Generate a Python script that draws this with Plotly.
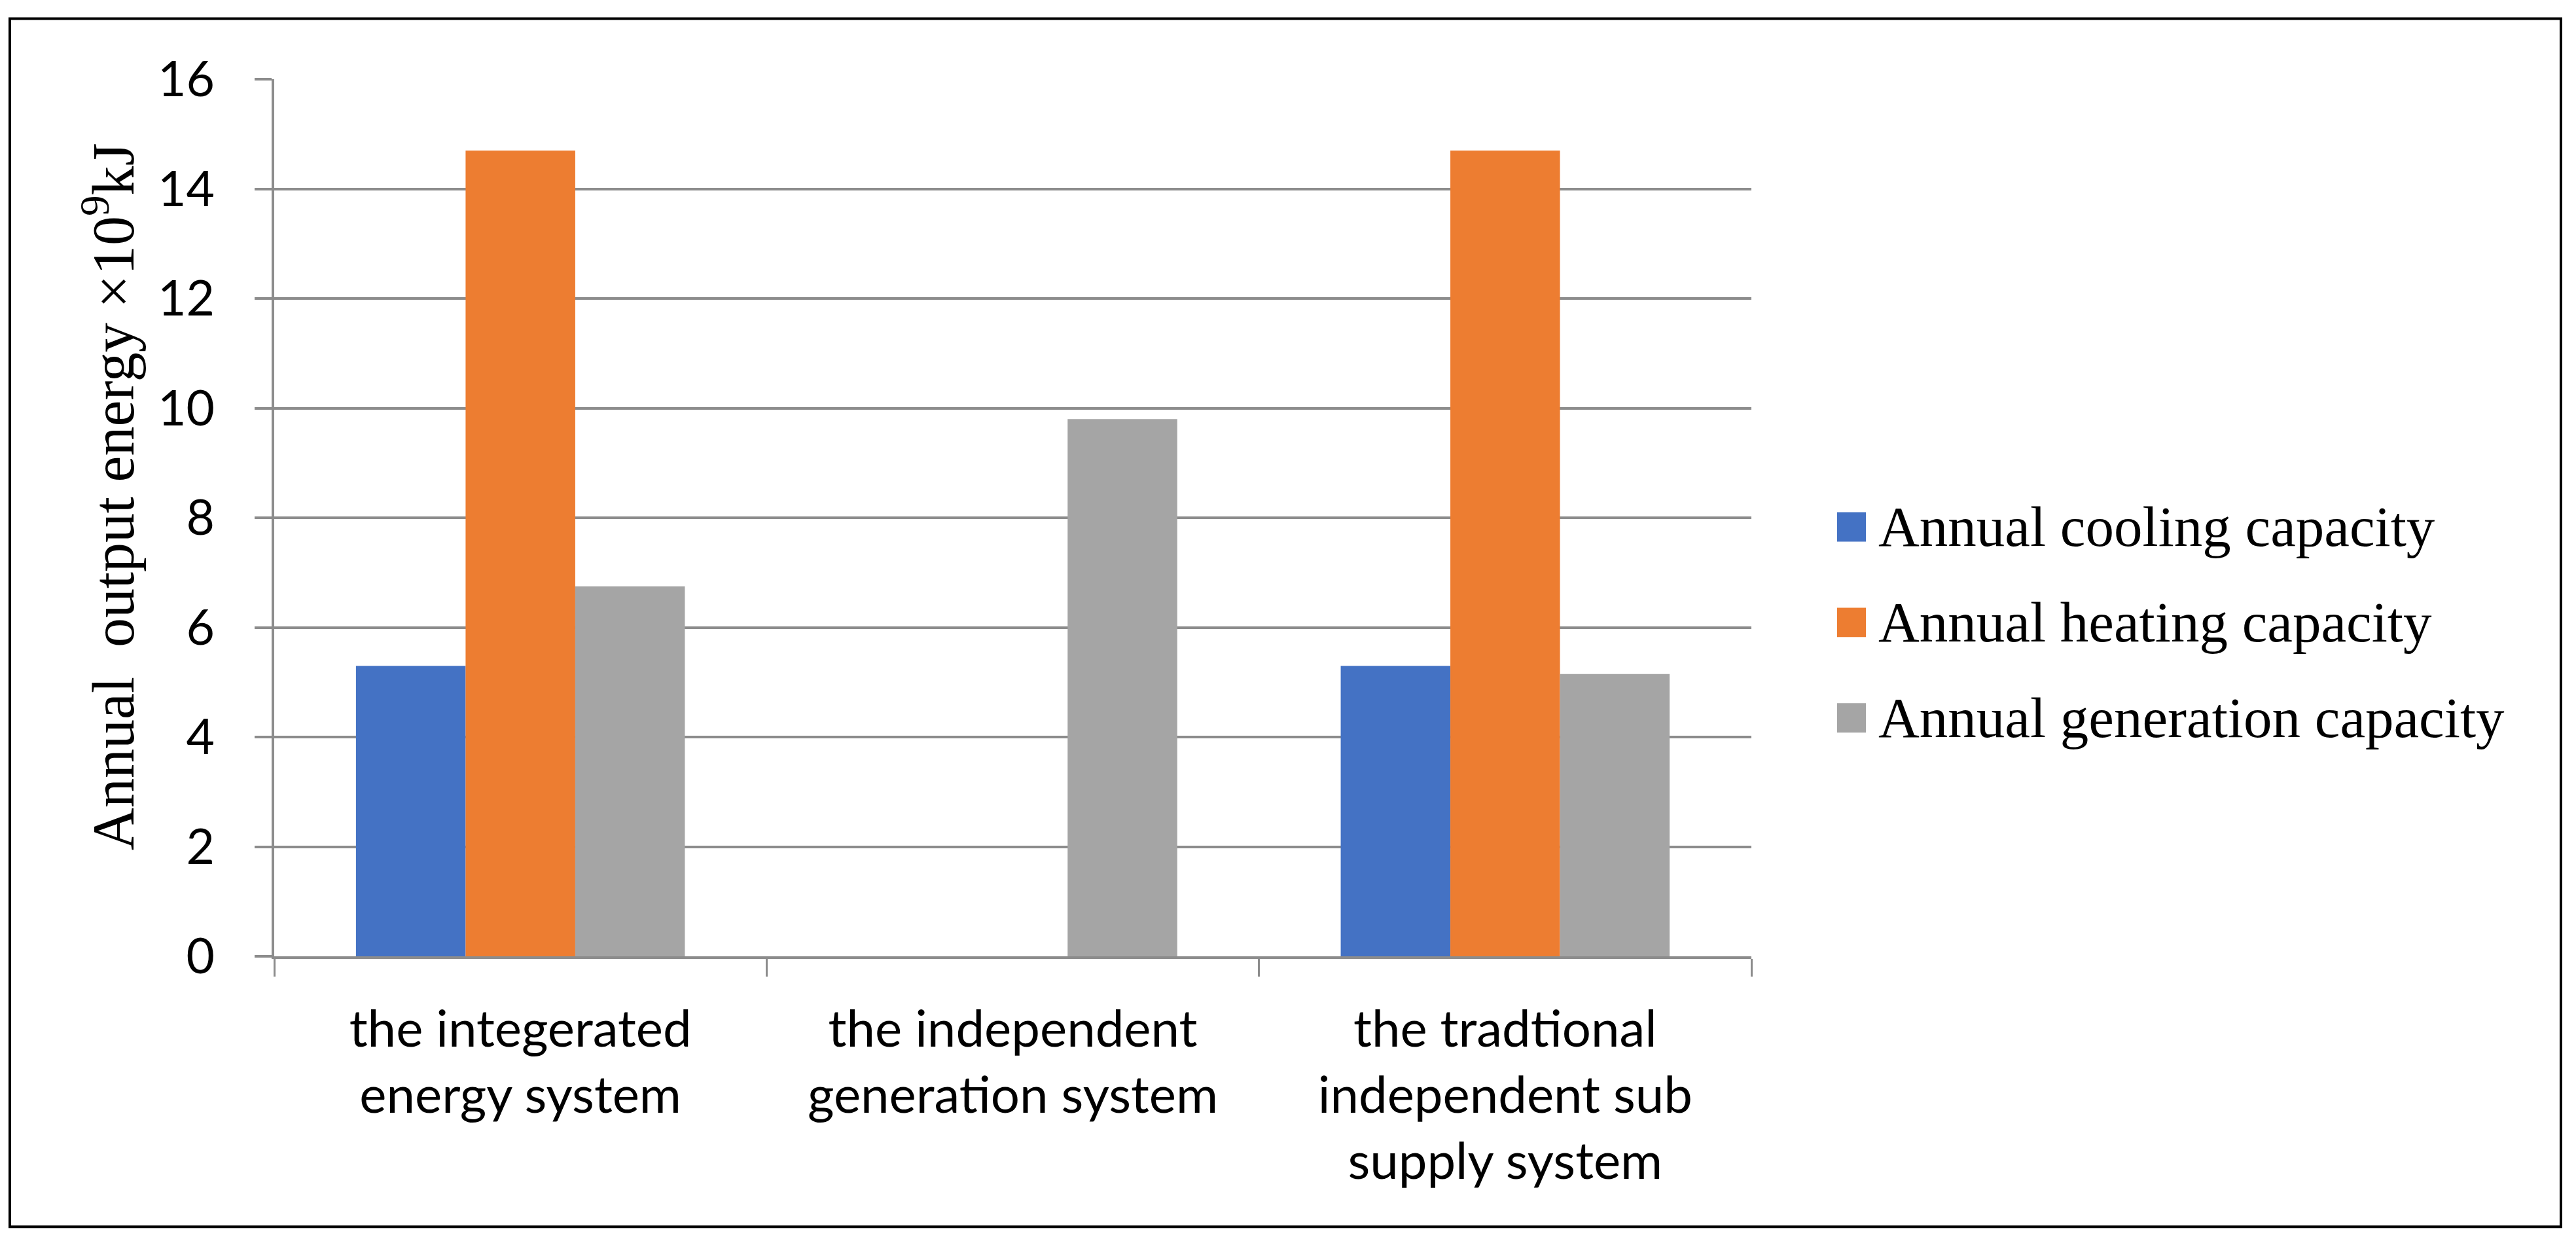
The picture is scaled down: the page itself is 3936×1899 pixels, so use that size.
import plotly.graph_objects as go

categories = ["the integerated<br>energy system",
              "the independent<br>generation system",
              "the tradtional<br>independent sub<br>supply system"]
series_names = ["Annual cooling capacity", "Annual heating capacity", "Annual generation capacity"]
cooling = [5.3, 0, 5.3]
heating = [14.7, 0, 14.7]
generation = [6.75, 9.8, 5.15]
series_values = [cooling, heating, generation]
colors = ["#4472C4", "#ED7D31", "#A5A5A5"]
y_ticks = [0, 2, 4, 6, 8, 10, 12, 14, 16]

# the page body has a default 8px margin, so the figure starts at (8, 8)
OFF = 8
FIG_W, FIG_H = 3920, 1883
L, R, T, B = 419, 2676, 120.5, 1461.5  # plot area in page pixels


def px(x):
    return (x - L) / (R - L)


def py(y):
    return (B - y) / (B - T)


fig = go.Figure()
for name, vals, col in zip(series_names, series_values, colors):
    fig.add_trace(go.Bar(x=categories, y=vals, name=name, marker_color=col,
                         marker_line_width=0, showlegend=False))

grid = "#8c8c8c"
fig.update_layout(
    width=FIG_W, height=FIG_H,
    margin=dict(l=L - OFF, r=FIG_W + OFF - R, t=T - OFF, b=FIG_H + OFF - B, pad=0),
    paper_bgcolor="white", plot_bgcolor="white",
    barmode="group", bargap=0.332, bargroupgap=0,
    xaxis=dict(showline=True, linecolor=grid, linewidth=4,
               ticks="outside", tickson="boundaries", ticklen=27, tickwidth=3, tickcolor=grid,
               tickfont=dict(family="Lato", size=78, color="black"),
               ticklabelstandoff=40, showgrid=False, zeroline=False),
    yaxis=dict(range=[0, 16], tickvals=y_ticks, showline=True, linecolor=grid, linewidth=4,
               ticks="outside", ticklen=26, tickwidth=4, tickcolor=grid,
               showgrid=True, gridcolor=grid, gridwidth=4, zeroline=False,
               tickfont=dict(family="Lato", size=75, color="black"),
               ticklabelstandoff=46),
    font=dict(family="Liberation Serif", color="black"),
)

# y-axis title
fig.add_annotation(text="Annual  output energy ×10<sup>9</sup>kJ", xref="paper", yref="paper",
                   x=px(166), y=py(759), textangle=-90, showarrow=False,
                   font=dict(family="Liberation Serif", size=90, color="black"),
                   xanchor="center", yanchor="middle")

# outer border
fig.add_shape(type="rect", xref="paper", yref="paper",
              x0=px(15), x1=px(3913), y0=py(1875), y1=py(28),
              line=dict(color="black", width=4), fillcolor="rgba(0,0,0,0)", layer="above")

# manual legend
legend_y = [805, 951, 1097]
for name, col, yc in zip(series_names, colors, legend_y):
    fig.add_shape(type="rect", xref="paper", yref="paper",
                  x0=px(2807), x1=px(2851), y0=py(yc + 22.5), y1=py(yc - 22.5),
                  line=dict(width=0), fillcolor=col)
    fig.add_annotation(text=name, xref="paper", yref="paper", x=px(2868), y=py(yc),
                       xanchor="left", yanchor="middle", showarrow=False,
                       font=dict(family="Liberation Serif", size=87, color="black"))

fig.write_html("out.html")
